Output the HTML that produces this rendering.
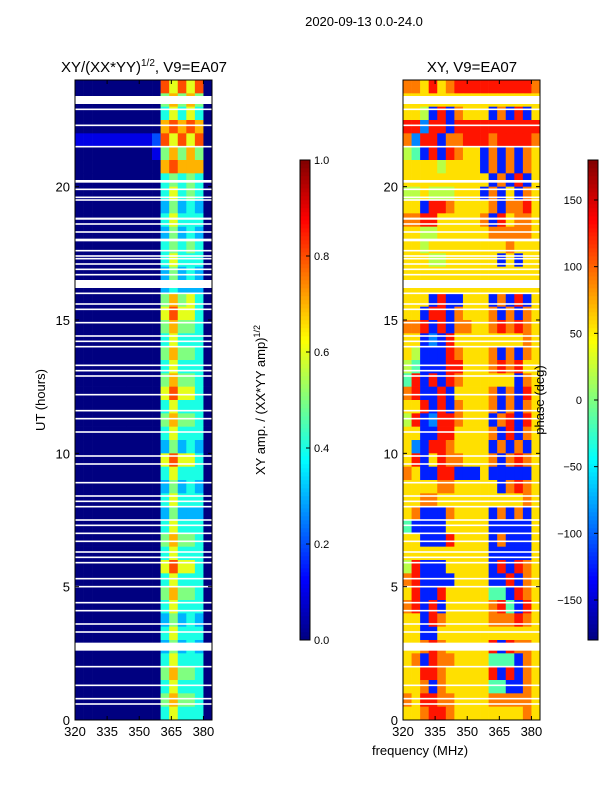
<!DOCTYPE html>
<html><head><meta charset="utf-8"><style>
body{margin:0;background:#fff;}
svg{font-family:"Liberation Sans",sans-serif;}
</style></head><body>
<svg id="s" width="600" height="800" xmlns="http://www.w3.org/2000/svg">
<text x="364" y="26" font-size="13" text-anchor="middle">2020-09-13 0.0-24.0</text>
<text x="144" y="72" font-size="15" text-anchor="middle">XY/(XX*YY)<tspan font-size="10" dy="-6">1/2</tspan><tspan dy="6">, V9=EA07</tspan></text>
<text x="472" y="72" font-size="15" text-anchor="middle">XY, V9=EA07</text>
<text transform="translate(45,400) rotate(-90)" font-size="13" text-anchor="middle">UT (hours)</text>
<text transform="translate(265,400) rotate(-90)" font-size="13" text-anchor="middle">XY amp. / (XX*YY amp)<tspan font-size="9" dy="-5">1/2</tspan></text>
<g id="g"></g>
<text transform="translate(544,400) rotate(-90)" font-size="13" text-anchor="middle">phase (deg)</text>
<text x="420" y="755" font-size="13" text-anchor="middle">frequency (MHz)</text>
</svg>
<script>
const ampRows=["0000000000868680","0000000000575750","0000000000464640","0000000000787870","1111111112868680","0000000001575750","0000000000787770","0000000000454540","0000000000464540","0000000000353430","0000000000464440","0000000000353430","0000000000454540","0000000000464440","0000000000353430","0000000000343330","0000000000575640","0000000000686640","0000000000575540","0000000000464440","0000000000575540","0000000000464440","0000000000575540","0000000000686640","0000000000464440","0000000000575540","0000000000464440","0000000000353430","0000000000686640","0000000000464440","0000000000353430","0000000000464440","0000000000353330","0000000000464440","0000000000575540","0000000000464440","0000000000686640","0000000000464440","0000000000575540","0000000000464440","0000000000353430","0000000000464440","0000000000353430","0000000000464440","0000000000575540","0000000000464440","0000000000575540","0000000000464440"];
const phaseRows=["7768678888888887","6666666666666666","6651817666171816","8828818888888888","7288177888788887","5418187661717176","6666566661717176","6666666666171816","5565556661716176","6618876666717786","7788666667186776","6655666666777776","6656666666667666","6665566666616166","6666666666666666","6666666666666666","6661811666171816","6618817666717176","7781817766787876","6612186666666676","6511187666717176","5411188666787866","4818187666666176","7811816666717186","6681817666717176","5812887666178186","6611886666718176","6218876666171716","6816877666717876","7611881116111116","6666776666617876","6677666666666676","6711176666171716","4111166666111116","6611186666171116","6666666666111116","5811166666181876","7811116666118176","6811866666441876","7818166666784186","6618766666777876","6611666666666666","6678766666818776","6718776666444176","6688766666818176","6671766666441176","7688776666777776","6678876666666676"];
const gapUT=[23.25,22.9,22.3,21.5,20.2,19.9,19.6,19.5,18.8,18.6,18.3,18.0,17.6,17.4,17.3,17.1,16.9,16.7,16.35,16.0,15.6,15.4,14.9,14.4,14.2,14.0,13.3,13.1,12.9,12.2,11.6,11.3,10.8,9.9,9.6,8.9,8.4,8.2,8.0,7.5,7.3,7.0,6.7,6.3,6.1,5.9,5.3,5.0,4.4,4.1,3.6,3.3,2.75,2.0,1.3,0.8,0.6];
const gapH=[0.3,0.06,0.06,0.06,0.1,0.06,0.06,0.06,0.08,0.06,0.06,0.1,0.06,0.06,0.06,0.06,0.06,0.06,0.3,0.06,0.06,0.06,0.06,0.06,0.06,0.06,0.06,0.06,0.06,0.06,0.06,0.06,0.06,0.06,0.06,0.06,0.06,0.06,0.06,0.06,0.06,0.06,0.06,0.06,0.06,0.06,0.06,0.06,0.06,0.06,0.06,0.06,0.3,0.06,0.06,0.06,0.06];
const yTicks=[0,5,10,15,20];
const xTicks=[320,335,350,365,380];
const ampTicks=[0.0,0.2,0.4,0.6,0.8,1.0];
const phaseTicks=[-150,-100,-50,0,50,100,150];

const NS="http://www.w3.org/2000/svg";
const g=document.getElementById('g');
function el(t,a,p){const e=document.createElementNS(NS,t);for(const k in a)e.setAttribute(k,a[k]);(p||g).appendChild(e);return e;}
function jet(v){v=Math.max(0,Math.min(1,v));
 const r=Math.max(0,Math.min(1,1.5-Math.abs(4*v-3))),gg=Math.max(0,Math.min(1,1.5-Math.abs(4*v-2))),b=Math.max(0,Math.min(1,1.5-Math.abs(4*v-1)));
 return `rgb(${Math.round(r*255)},${Math.round(gg*255)},${Math.round(b*255)})`;}
const T=80,B=720,F0=320,F1=384,W=137;
const yUT=u=>B-(u/24)*(B-T);
function xF(L){return f=>L+(f-F0)/(F1-F0)*W;}
const panels=[{L:75,rows:ampRows,val:c=>c/10,name:'amp'},{L:403,rows:phaseRows,val:c=>(c*36+20)/360,name:'phase'}];
panels.forEach(p=>{
 const X=xF(p.L);
 const pg=el('g',{});
 
 
 const n=p.rows.length;
 p.rows.forEach((row,i)=>{
  const u1=24-i*24/n,u0=24-(i+1)*24/n;
  const nc=row.length;
  for(let j=0;j<nc;j++){
   const f0=F0+j*(F1-F0)/nc,f1=F0+(j+1)*(F1-F0)/nc;
   const c=+row[j];
   const r=el('rect',{x:X(f0),y:yUT(u1),width:Math.min(X(f1)-X(f0)+0.3,p.L+W-X(f0)),height:yUT(u0)-yUT(u1)+0.3,fill:jet(p.val(c))},pg);
   
   
  }
 });
 gapUT.forEach((u,k)=>{
  const r=el('rect',{x:p.L,y:yUT(u+gapH[k]/2),width:W,height:Math.max(1.5,yUT(u-gapH[k]/2)-yUT(u+gapH[k]/2)),fill:'#fff'},pg);
  
  
 });
 const fr=el('rect',{x:p.L,y:T,width:W,height:B-T,fill:'none',stroke:'#000','stroke-width':1});
 
 
 yTicks.forEach(t=>{
  const y=yUT(t);
  el('line',{x1:p.L,x2:p.L+4,y1:y,y2:y,stroke:'#000'});
  el('line',{x1:p.L+W-4,x2:p.L+W,y1:y,y2:y,stroke:'#000'});
  const tx=el('text',{x:p.L-5,y:y+5,'font-size':13,'text-anchor':'end'});tx.textContent=t;
  
  
 });
 xTicks.forEach(t=>{
  const x=X(t);
  el('line',{x1:x,x2:x,y1:B,y2:B-4,stroke:'#000'});
  el('line',{x1:x,x2:x,y1:T,y2:T+4,stroke:'#000'});
  const tx=el('text',{x:x,y:B+16,'font-size':13,'text-anchor':'middle'});tx.textContent=t;
  
  
 });
});
// colorbars
const cbs=[{x:300,min:0,max:1,ticks:ampTicks,fmt:v=>v.toFixed(1),name:'amp-colorbar',side:'r'},{x:588,min:-180,max:180,ticks:phaseTicks,fmt:v=>v<0?'\u2212'+(-v):''+v,name:'phase-colorbar',side:'l'}];
cbs.forEach(c=>{
 const cg=el('g',{});
 
 
 const N=120;
 for(let i=0;i<N;i++){
  el('rect',{x:c.x,y:640-(i+1)*4,width:10,height:4.3,fill:jet((i+0.5)/N)},cg);
 }
 el('rect',{x:c.x,y:160,width:10,height:480,fill:'none',stroke:'#000'},cg);
 c.ticks.forEach(t=>{
  const y=640-(t-c.min)/(c.max-c.min)*480;
  el('line',{x1:c.x+6,x2:c.x+10,y1:y,y2:y,stroke:'#000'},cg);
  const tx=c.side==='r'?el('text',{x:c.x+14,y:y+4,'font-size':11},cg):el('text',{x:c.x-6,y:y+4,'font-size':11,'text-anchor':'end'},cg);
  tx.textContent=c.fmt(t);
  
  
 });
});
</script>
</body></html>
